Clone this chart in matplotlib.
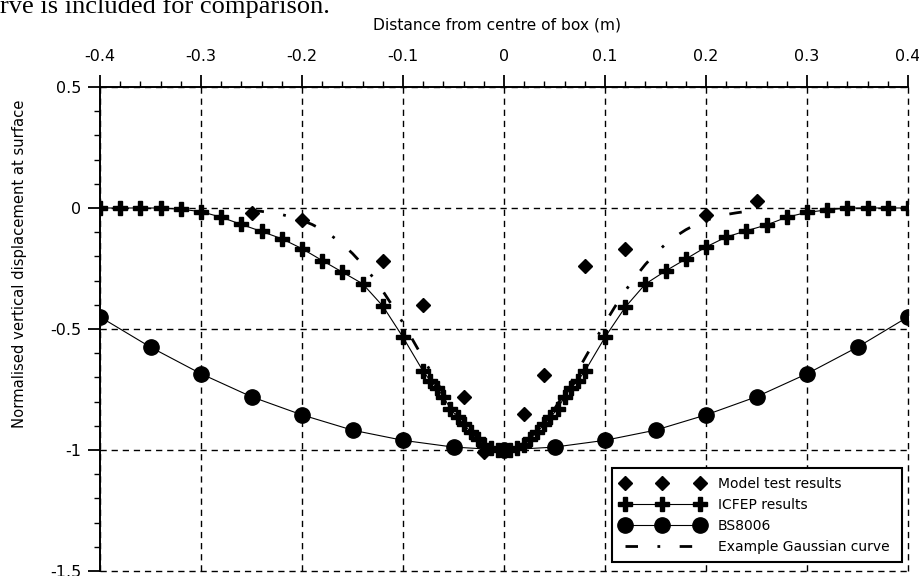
import matplotlib
matplotlib.use('Agg')
import matplotlib.pyplot as plt
from matplotlib.ticker import MultipleLocator, FixedLocator, FixedFormatter

plt.rcParams['font.family'] = ['DejaVu Sans']
plt.rcParams['lines.scale_dashes'] = False

# ---------------- data ----------------
icfep_x = [-0.4, -0.38, -0.36, -0.34, -0.32, -0.3, -0.28, -0.26, -0.24, -0.22, -0.2,
           -0.18, -0.16, -0.14, -0.12, -0.1, -0.08, -0.073, -0.066, -0.06, -0.053,
           -0.046, -0.04, -0.033, -0.026, -0.02, -0.013, -0.006, 0.0,
           0.006, 0.013, 0.02, 0.026, 0.033, 0.04, 0.046, 0.053, 0.06, 0.066, 0.073,
           0.08, 0.1, 0.12, 0.14, 0.16, 0.18, 0.2, 0.22, 0.24, 0.26, 0.28, 0.3,
           0.32, 0.34, 0.36, 0.38, 0.4]
icfep_y = [0.0, 0.0, 0.0, 0.0, -0.005, -0.015, -0.038, -0.068, -0.097, -0.127, -0.168,
           -0.217, -0.265, -0.313, -0.405, -0.534, -0.675, -0.713, -0.745, -0.78, -0.83,
           -0.865, -0.893, -0.925, -0.955, -0.978, -0.993, -1.0, -1.0,
           -1.0, -0.993, -0.978, -0.955, -0.925, -0.893, -0.865, -0.83, -0.78, -0.745, -0.713,
           -0.675, -0.534, -0.41, -0.314, -0.26, -0.211, -0.161, -0.12, -0.094, -0.07, -0.038, -0.018,
           -0.008, 0.0, 0.0, 0.0, 0.0]

bs_x = [-0.4, -0.35, -0.3, -0.25, -0.2, -0.15, -0.1, -0.05, 0.0,
        0.05, 0.1, 0.15, 0.2, 0.25, 0.3, 0.35, 0.4]
bs_y = [-0.45, -0.575, -0.685, -0.78, -0.855, -0.918, -0.96, -0.988, -1.0,
        -0.988, -0.96, -0.918, -0.855, -0.78, -0.685, -0.575, -0.45]

model_x = [-0.25, -0.2, -0.12, -0.08, -0.04, -0.02, 0.02, 0.04, 0.08, 0.12, 0.2, 0.25]
model_y = [-0.02, -0.05, -0.22, -0.40, -0.78, -1.01, -0.85, -0.69, -0.24, -0.17, -0.03, 0.03]

gauss_x = [-0.25, -0.24, -0.23, -0.22, -0.21, -0.2, -0.19, -0.18, -0.17, -0.16, -0.15,
           -0.14, -0.13, -0.12, -0.11, -0.1, -0.09, -0.08, -0.07, -0.06, -0.05, -0.04,
           -0.03, -0.02, -0.01, 0.0, 0.01, 0.02, 0.03, 0.04, 0.05, 0.06, 0.07, 0.08,
           0.09, 0.1, 0.11, 0.12, 0.13, 0.14, 0.15, 0.16, 0.17, 0.18, 0.19, 0.2,
           0.21, 0.22, 0.23, 0.24, 0.25]
gauss_y = [-0.010, -0.014, -0.020, -0.027, -0.038, -0.051, -0.068, -0.090, -0.117, -0.149, -0.188,
           -0.233, -0.285, -0.343, -0.407, -0.475, -0.548, -0.621, -0.695, -0.765, -0.830, -0.888,
           -0.935, -0.971, -0.993, -1.0, -0.993, -0.971, -0.935, -0.888, -0.830, -0.765, -0.695, -0.621,
           -0.548, -0.475, -0.407, -0.343, -0.285, -0.233, -0.188, -0.149, -0.117, -0.090, -0.068, -0.051,
           -0.038, -0.027, -0.020, -0.014, -0.010]

x_ticks = [-0.4, -0.3, -0.2, -0.1, 0.0, 0.1, 0.2, 0.3, 0.4]
x_tick_labels = ['-0.4', '-0.3', '-0.2', '-0.1', '0', '0.1', '0.2', '0.3', '0.4']
y_ticks = [0.5, 0.0, -0.5, -1.0, -1.5]
y_tick_labels = ['0.5', '0', '-0.5', '-1', '-1.5']

# ---------------- figure ----------------
fig = plt.figure(figsize=(9.2, 5.76), dpi=100)
ax = fig.add_axes([100 / 920, 1 - 571 / 576, 808 / 920, 484 / 576])

ax.set_xlim(-0.4, 0.4)
ax.set_ylim(-1.5, 0.5)

l_icfep, = ax.plot(icfep_x, icfep_y, color='black', lw=0.8, marker='P', ms=10.5,
                   mfc='black', mec='black', label='ICFEP results', zorder=3)
l_bs, = ax.plot(bs_x, bs_y, color='black', lw=0.8, marker='o', ms=11,
                mfc='black', mec='black', label='BS8006', zorder=3)
l_model, = ax.plot(model_x, model_y, linestyle='none', marker='D', ms=7.5,
                   color='black', label='Model test results', zorder=4)
l_gauss, = ax.plot(gauss_x, gauss_y, color='black', lw=2.0,
                   linestyle=(0, (9, 14, 2, 14)), label='Example Gaussian curve', zorder=4)

# axes styling
for s in ['right', 'bottom']:
    ax.spines[s].set_visible(False)
for s in ['left', 'top']:
    ax.spines[s].set_linewidth(1.4)

ax.xaxis.tick_top()
ax.xaxis.set_major_locator(FixedLocator(x_ticks))
ax.xaxis.set_major_formatter(FixedFormatter(x_tick_labels))
ax.xaxis.set_minor_locator(MultipleLocator(0.02))
ax.yaxis.set_major_locator(FixedLocator(y_ticks))
ax.yaxis.set_major_formatter(FixedFormatter(y_tick_labels))
ax.yaxis.set_minor_locator(MultipleLocator(0.1))

ax.tick_params(axis='x', which='major', direction='out', length=8.5, width=1.3,
               pad=8, labelsize=11.5, top=True, bottom=False, labeltop=True, labelbottom=False)
ax.tick_params(axis='x', which='minor', direction='out', length=4.3, width=1.0,
               top=True, bottom=False)
ax.tick_params(axis='y', which='major', direction='out', length=8.5, width=1.3,
               pad=5, labelsize=11.5, left=True, right=False)
ax.tick_params(axis='y', which='minor', direction='out', length=4.3, width=1.0,
               left=True, right=False)

ax.grid(True, which='major', color='black', linestyle=(0, (4.5, 3.5)), linewidth=1.0)
ax.set_axisbelow(True)
for t in ax.xaxis.get_major_ticks() + ax.yaxis.get_major_ticks():
    t.gridline.set_clip_on(False)

leg = ax.legend(handles=[l_model, l_icfep, l_bs, l_gauss], loc='lower left',
                bbox_to_anchor=(0.634, 0.0186, 0.3586, 0.2), mode='expand',
                borderaxespad=0, frameon=True,
                fancybox=False, edgecolor='black', framealpha=1, fontsize=10,
                numpoints=3, handlelength=6.0, handletextpad=1.0, labelspacing=0.5,
                borderpad=0.6)
leg.get_frame().set_linewidth(1.5)

fig.text(0.0, 1 - 13 / 576, 'rve is included for comparison.', family='Liberation Serif',
         fontsize=19, ha='left', va='baseline')
fig.text(497 / 920, 1 - 25 / 576, 'Distance from centre of box (m)', ha='center',
         va='center', fontsize=11.2)
fig.text(20 / 920, 1 - 264 / 576, 'Normalised vertical displacement at surface',
         rotation=90, ha='center', va='center', fontsize=10.6)

fig.savefig('out.png', dpi=100)
